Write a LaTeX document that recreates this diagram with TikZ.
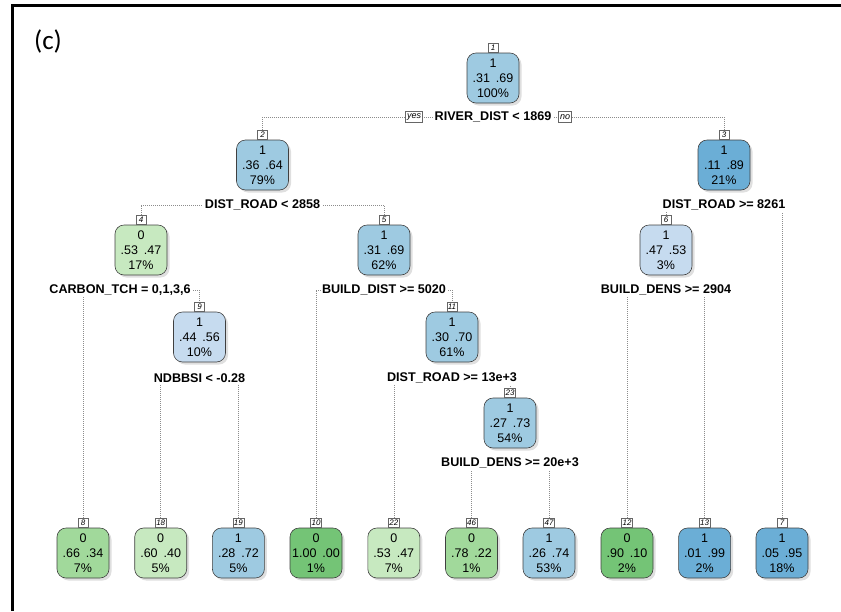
\documentclass[tikz,border=0pt]{standalone}
\usepackage{fontspec}
\setmainfont{Liberation Sans}
\newfontfamily\calibri{Carlito}
\usetikzlibrary{positioning}
\usetikzlibrary{shadows}
\usetikzlibrary{backgrounds}

\definecolor{greenA}{HTML}{C7E9C0}
\definecolor{greenB}{HTML}{A1D99B}
\definecolor{greenC}{HTML}{74C476}
\definecolor{blueA}{HTML}{C6DBEF}
\definecolor{blueB}{HTML}{9ECAE1}
\definecolor{blueC}{HTML}{6BAED6}

\newcommand{\pgap}{\hspace{6pt}}

\tikzset{
    box/.style={draw=black!75, line width=0.6pt, rounded corners=9pt,
        minimum width=52pt, minimum height=50pt, inner sep=0pt, align=center,
        font=\fontsize{12.5}{15}\selectfont,
        drop shadow={shadow xshift=2.5pt, shadow yshift=-2.5pt, fill=black!25}},
    numlab/.style={draw=black!60, fill=white, line width=0.5pt, inner sep=1pt,
        minimum width=10pt, minimum height=9.5pt, font=\fontsize{8}{8}\selectfont\itshape},
    split/.style={fill=white, inner sep=1.5pt, font=\fontsize{12.6}{14}\selectfont\bfseries},
    yn/.style={draw=black!60, fill=white, line width=0.5pt, inner sep=1.5pt,
        minimum height=11pt, font=\fontsize{9}{9}\selectfont\itshape},
    link/.style={draw=black!45, line width=0.6pt, dash pattern=on 0.7pt off 1.3pt}
}

\begin{document}
\begin{tikzpicture}[x=1pt,y=-1pt]
        \useasboundingbox (0,0) rectangle (841,611);
        \draw[line width=3pt] (12,611) -- (12,5.5) -- (841,5.5);
        \node[font=\calibri\fontsize{27}{30}\selectfont] (tag) at (48,41) {(c)};

        % split nodes
        \node[box, fill=blueB] (n1) at (493,78) {1\\.31\pgap.69\\100\%};
        \node[box, fill=blueB] (n2) at (262.5,165) {1\\.36\pgap.64\\79\%};
        \node[box, fill=blueC] (n3) at (724,165) {1\\.11\pgap.89\\21\%};
        \node[box, fill=greenA] (n4) at (141,250) {0\\.53\pgap.47\\17\%};
        \node[box, fill=blueB] (n5) at (384,250) {1\\.31\pgap.69\\62\%};
        \node[box, fill=blueA] (n6) at (666,250) {1\\.47\pgap.53\\3\%};
        \node[box, fill=blueA] (n9) at (199.5,337) {1\\.44\pgap.56\\10\%};
        \node[box, fill=blueB] (n11) at (452,337) {1\\.30\pgap.70\\61\%};
        \node[box, fill=blueB] (n23) at (510,423) {1\\.27\pgap.73\\54\%};

        % leaves
        \node[box, fill=greenB] (n8) at (83,553) {0\\.66\pgap.34\\7\%};
        \node[box, fill=greenA] (n18) at (160.7,553) {0\\.60\pgap.40\\5\%};
        \node[box, fill=blueB] (n19) at (238.4,553) {1\\.28\pgap.72\\5\%};
        \node[box, fill=greenC] (n10) at (316,553) {0\\1.00\pgap.00\\1\%};
        \node[box, fill=greenA] (n22) at (393.8,553) {0\\.53\pgap.47\\7\%};
        \node[box, fill=greenB] (n46) at (471.5,553) {0\\.78\pgap.22\\1\%};
        \node[box, fill=blueB] (n47) at (549,553) {1\\.26\pgap.74\\53\%};
        \node[box, fill=greenC] (n12) at (627,553) {0\\.90\pgap.10\\2\%};
        \node[box, fill=blueC] (n13) at (704.6,553) {1\\.01\pgap.99\\2\%};
        \node[box, fill=blueC] (n7) at (782,553) {1\\.05\pgap.95\\18\%};

        % node numbers
        \node[numlab, above=0pt of n1] (l1) {1};
        \node[numlab, above=0pt of n2] (l2) {2};
        \node[numlab, above=0pt of n3] (l3) {3};
        \node[numlab, above=0pt of n4] (l4) {4};
        \node[numlab, above=0pt of n5] (l5) {5};
        \node[numlab, above=0pt of n6] (l6) {6};
        \node[numlab, above=0pt of n9] (l9) {9};
        \node[numlab, above=0pt of n11] (l11) {11};
        \node[numlab, above=0pt of n23] (l23) {23};
        \node[numlab, above=0pt of n8] (l8) {8};
        \node[numlab, above=0pt of n18] (l18) {18};
        \node[numlab, above=0pt of n19] (l19) {19};
        \node[numlab, above=0pt of n10] (l10) {10};
        \node[numlab, above=0pt of n22] (l22) {22};
        \node[numlab, above=0pt of n46] (l46) {46};
        \node[numlab, above=0pt of n47] (l47) {47};
        \node[numlab, above=0pt of n12] (l12) {12};
        \node[numlab, above=0pt of n13] (l13) {13};
        \node[numlab, above=0pt of n7] (l7) {7};

        % split rules
        \node[split] (s1) at (493,117) {RIVER\_DIST < 1869};
        \node[yn] (yes) at (414,117) {yes};
        \node[yn] (no) at (565,117) {no};
        \node[split] (s2) at (262.5,205) {DIST\_ROAD < 2858};
        \node[split] (s3) at (724,205) {DIST\_ROAD >= 8261};
        \node[split] (s4) at (120,290) {CARBON\_TCH = 0,1,3,6};
        \node[split] (s5) at (384,290) {BUILD\_DIST >= 5020};
        \node[split] (s6) at (666,290) {BUILD\_DENS >= 2904};
        \node[split] (s9) at (199.5,378) {NDBBSI < -0.28};
        \node[split] (s11) at (452,378) {DIST\_ROAD >= 13e+3};
        \node[split] (s23) at (510,463) {BUILD\_DENS >= 20e+3};

        \begin{scope}[on background layer]
        \draw[link] (l2.north) |- (s1.center) -| (l3.north);
        \draw[link] (l4.north) |- (s2.center) -| (l5.north);
        \draw[link] (l6.north) |- (s3.center) -| (l7.north);
        \draw[link] (l8.north) |- (s4.center) -| (l9.north);
        \draw[link] (l10.north) |- (s5.center) -| (l11.north);
        \draw[link] (l12.north) |- (s6.center) -| (l13.north);
        \draw[link] (l18.north) |- (s9.center) -| (l19.north);
        \draw[link] (l22.north) |- (s11.center) -| (l23.north);
        \draw[link] (l46.north) |- (s23.center) -| (l47.north);
        \end{scope}
    \end{tikzpicture}
\end{document}
